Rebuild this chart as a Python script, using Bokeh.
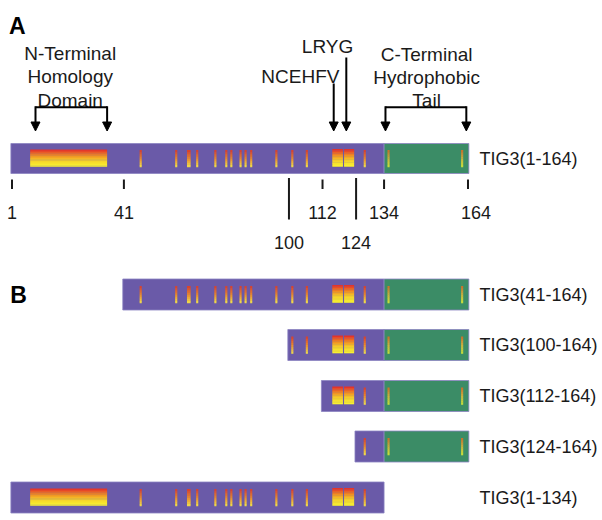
from bokeh.plotting import figure
from bokeh.models import Range1d, Arrow, NormalHead
from bokeh.core.properties import value
from bokeh.embed import file_html
from bokeh.resources import INLINE
import numpy as np

# ---------------- data (residue positions) ----------------
tail_start = 134
nterm_domain_start, nterm_domain_end = 7.5, 35
motif_block_start = [115.5, 119.7]
motif_block_end = [119.3, 123.3]
stripes = [47, 59.7, 64.2, 67.2, 73.7, 77.6, 79.4, 82.7, 84.5, 86.5,
           95.5, 101.2, 106.4, 127.1, 135.6, 161.9]
wide_stripes = [64.2]
constructs = ["TIG3(1-164)", "TIG3(41-164)", "TIG3(100-164)", "TIG3(112-164)",
              "TIG3(124-164)", "TIG3(1-134)"]
construct_start = [1, 41, 100, 112, 124, 1]
construct_end = [164, 164, 164, 164, 164, 134]
short_ticks = [1, 41, 112, 134, 164]
long_ticks = [100, 124]

# ---------------- figure ----------------
W, H = 602, 520
p = figure(width=W, height=H, output_backend="svg", toolbar_location=None,
           x_range=Range1d(-3.111, 212.08), y_range=Range1d(520, 0),
           x_axis_location=None, y_axis_location=None, min_border=0,
           background_fill_color="white", border_fill_color="white")
p.grid.visible = False
p.outline_line_color = None

PURPLE = "#6a5aa8"
GREEN = "#3b8c66"
FONT = value("Liberation Sans")

row_y = [158, 294, 344.5, 395.5, 446, 497]
row_h = [30, 31, 31, 31, 31, 31]


def hex2rgb(h):
    h = h.lstrip("#")
    return np.array([int(h[i:i + 2], 16) for i in (0, 2, 4)], dtype=float)


def interp_colors(stops, n):
    pts = np.linspace(0, 1, len(stops))
    rgb = np.array([hex2rgb(s) for s in stops])
    out = []
    for t in np.linspace(0, 1, n):
        c = [np.interp(t, pts, rgb[:, k]) for k in range(3)]
        out.append("#%02x%02x%02x" % tuple(int(round(v)) for v in c))
    return out


gq = dict(left=[], right=[], top=[], bottom=[], color=[])


def grad(x0, x1, ytop, ybot, stops, n=10):
    cols = interp_colors(stops, n)
    edges = np.linspace(ytop, ybot, n + 1)
    for i in range(n):
        gq["left"].append(x0)
        gq["right"].append(x1)
        gq["top"].append(edges[i])
        gq["bottom"].append(edges[i + 1] + 0.3)
        gq["color"].append(cols[i])


BOX_STOPS = ["#e3342b", "#f08a22", "#f6d22a", "#f8f030"]
STRIPE_P = ["#d8442f", "#e8882c", "#eed64a"]
STRIPE_G = ["#c9742c", "#c9b040", "#c6dc3c"]

bars = dict(left=[], right=[], top=[], bottom=[], color=[])
for s, e, yc, h in zip(construct_start, construct_end, row_y, row_h):
    top, bot = yc - h / 2, yc + h / 2
    ps_end = min(e, tail_start)
    bars["left"].append(s - 0.4)
    bars["right"].append(ps_end)
    bars["top"].append(top)
    bars["bottom"].append(bot)
    bars["color"].append(PURPLE)
    if e > tail_start:
        bars["left"].append(max(s, tail_start))
        bars["right"].append(e + 0.3)
        bars["top"].append(top)
        bars["bottom"].append(bot)
        bars["color"].append(GREEN)
    # N-terminal homology domain box
    if s <= nterm_domain_start and e >= nterm_domain_end:
        grad(nterm_domain_start, nterm_domain_end, yc - 9, yc + 8, BOX_STOPS, 14)
    for b0, b1 in zip(motif_block_start, motif_block_end):
        if s <= b0 and e >= b1:
            grad(b0, b1, yc - 9.5, yc + 8, BOX_STOPS, 12)
    for st in stripes:
        if s <= st - 0.5 and e >= st + 0.5:
            w = 0.65 if st in wide_stripes else 0.38
            stops = STRIPE_G if st > tail_start else STRIPE_P
            grad(st - w, st + w, yc - 8.5, yc + 8.5, stops, 8)

p.quad(left="left", right="right", top="top", bottom="bottom", color="color",
       source=bars, line_color="#8c84c2", line_width=0.8)
p.quad(left="left", right="right", top="top", bottom="bottom", fill_color="color",
       line_color=None, source=gq)

# construct labels
p.text(x=[168.1] * len(constructs), y=row_y, text=constructs,
       text_font=FONT, text_font_size="18px", text_align="left",
       text_baseline="middle", text_color="#1a1a1a")

# ticks under the full-length bar
p.segment(x0=short_ticks, x1=short_ticks, y0=[179] * len(short_ticks),
          y1=[188.5] * len(short_ticks), line_color="#1a1a1a", line_width=2)
p.segment(x0=long_ticks, x1=long_ticks, y0=[177.5] * len(long_ticks),
          y1=[219] * len(long_ticks), line_color="#1a1a1a", line_width=2)
p.text(x=short_ticks, y=[211.5] * len(short_ticks), text=[str(t) for t in short_ticks],
       x_offset=[0, 0, 0, 0, 8], text_font=FONT, text_font_size="18px",
       text_align="center", text_baseline="alphabetic", text_color="#1a1a1a")
p.text(x=long_ticks, y=[242] * len(long_ticks), text=[str(t) for t in long_ticks],
       text_font=FONT, text_font_size="18px", text_align="center",
       text_baseline="alphabetic", text_color="#1a1a1a")

# panel letters
p.text(x=[-0.1, 0.35], y=[25, 294.3], text=["A", "B"], text_font=FONT,
       text_font_size="23px", text_font_style="bold", text_align="left",
       text_baseline="alphabetic", text_color="black")

# annotations
ann_x = [21.8, 21.8, 21.8, 149.2, 149.2, 149.2, 113.8, 104.1]
ann_y = [53.3, 76, 100, 54, 76.5, 100, 46, 76]
ann_t = ["N-Terminal", "Homology", "Domain", "C-Terminal", "Hydrophobic", "Tail",
         "LRYG", "NCEHFV"]
p.text(x=ann_x, y=ann_y, text=ann_t, text_font=FONT, text_font_size="19px",
       text_align="center", text_baseline="alphabetic", text_color="#1a1a1a")

# brackets
p.segment(x0=[9.4, 134.5], x1=[35.0, 163.4], y0=[106.7, 106.7], y1=[106.7, 106.7],
          line_color="black", line_width=2)
arrow_x = [9.4, 35.0, 134.5, 163.4, 116.0, 120.5]
arrow_y0 = [105.7, 105.7, 105.7, 105.7, 83, 57]
for ax, ay in zip(arrow_x, arrow_y0):
    p.add_layout(Arrow(end=NormalHead(size=9, fill_color="black", line_color="black",
                                      line_width=1),
                       x_start=ax, y_start=ay, x_end=ax, y_end=130.5,
                       line_color="black", line_width=2))

open("out.html", "w").write(file_html(p, INLINE))
